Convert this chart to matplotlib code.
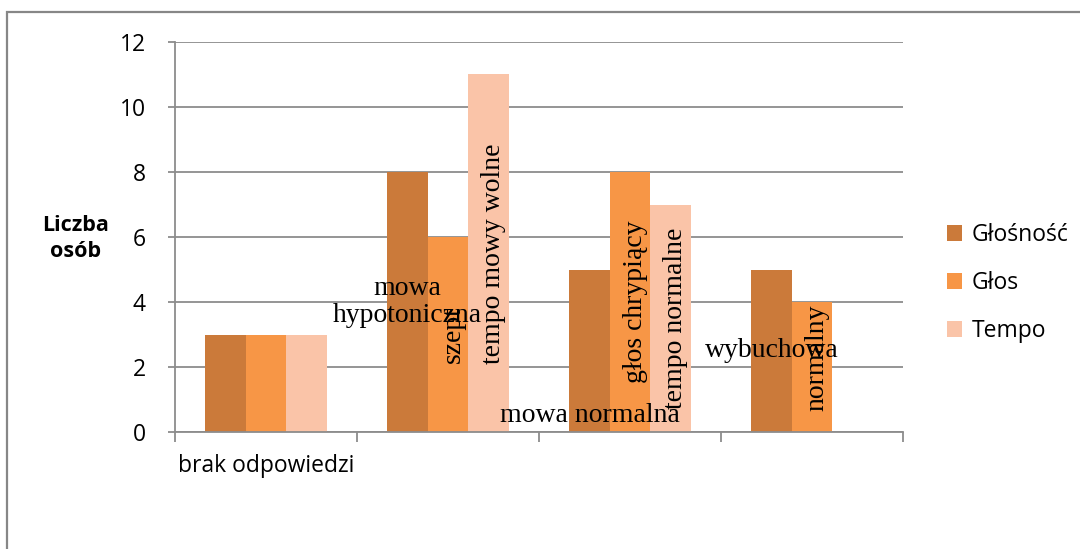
import matplotlib
matplotlib.use("Agg")
import matplotlib.pyplot as plt
from matplotlib.patches import Rectangle
import numpy as np

# Categories on the x axis (only the first one carries a visible name)
categories = ["brak odpowiedzi", "", "", ""]
series_names = ["Głośność", "Głos", "Tempo"]
glosnosc = [3, 8, 5, 5]
glos = [3, 6, 8, 4]
tempo = [3, 11, 7, 0]
colors = ["#CB7A3A", "#F79646", "#FAC4A8"]

# Descriptive labels placed on bars: (text, series index, category index, rotation)
bar_labels = [
    ("mowa\nhypotoniczna", 0, 1, 0),
    ("szept", 1, 1, 90),
    ("tempo mowy wolne", 2, 1, 90),
    ("mowa normalna", 0, 2, 0),
    ("głos chrypiący", 1, 2, 90),
    ("tempo normalne", 2, 2, 90),
    ("wybuchowa", 0, 3, 0),
    ("normalny", 1, 3, 90),
]
# vertical label position overrides (in data units)
label_y_override = {"mowa normalna": 0.52, "normalny": 2.3}

grid_gray = "#8C8C8C"
sans = "Open Sans"
serif = "Liberation Serif"
fs = 16.5

fig = plt.figure(figsize=(10.8, 5.49), dpi=100)
ax = fig.add_axes([0.162, 0.2131, 0.674, 0.7104])

x = np.arange(len(categories))
width = 1 / 4.5
all_values = [glosnosc, glos, tempo]
for i, (vals, name, col) in enumerate(zip(all_values, series_names, colors)):
    ax.bar(x + (i - 1) * width, vals, width, color=col, label=name, zorder=2)

for text, si, ci, rot in bar_labels:
    bx = x[ci] + (si - 1) * width
    if rot:
        bx += 0.03
    by = label_y_override.get(text, all_values[si][ci] / 2)
    ax.text(bx, by, text, rotation=rot, ha="center", va="center",
            fontsize=20, family=serif, color="black", zorder=5,
            linespacing=1.15)

ax.set_xlim(-0.5, len(categories) - 0.5)
ax.set_ylim(0, 12)
ax.set_yticks(range(0, 13, 2))
ax.yaxis.grid(True, color=grid_gray, lw=1.3, zorder=0)
ax.set_axisbelow(True)

# category names centred, tick marks on category boundaries
ax.set_xticks(x)
ax.set_xticklabels(categories, fontsize=fs, family=sans)
ax.tick_params(axis="x", which="major", length=0, pad=16)
ax.set_xticks(np.arange(-0.5, len(categories)), minor=True)
ax.tick_params(axis="x", which="minor", length=7, width=1.3, color=grid_gray)
ax.tick_params(axis="y", length=5, width=1.3, color=grid_gray, pad=16,
               labelsize=fs)
for lbl in ax.get_yticklabels():
    lbl.set_family(sans)

for side in ["top", "right"]:
    ax.spines[side].set_visible(False)
for side in ["left", "bottom"]:
    ax.spines[side].set_color(grid_gray)
    ax.spines[side].set_linewidth(1.3)

fig.text(0.07, 0.566, "Liczba\nosób", ha="center", va="center",
         fontsize=15.5, fontweight="bold", family=sans, linespacing=1.3)

leg = ax.legend(loc="center left", bbox_to_anchor=(0.858, 0.4845),
                bbox_transform=fig.transFigure, frameon=False,
                handlelength=0.65, handleheight=0.65, handletextpad=0.4,
                labelspacing=1.05, prop={"family": sans, "size": fs})

# outer chart frame
fig.add_artist(Rectangle((0.0065, -0.05), 1.1, 1.028, transform=fig.transFigure,
                         fill=False, edgecolor="#878787", lw=1.6))

fig.savefig("out.png", dpi=100)
